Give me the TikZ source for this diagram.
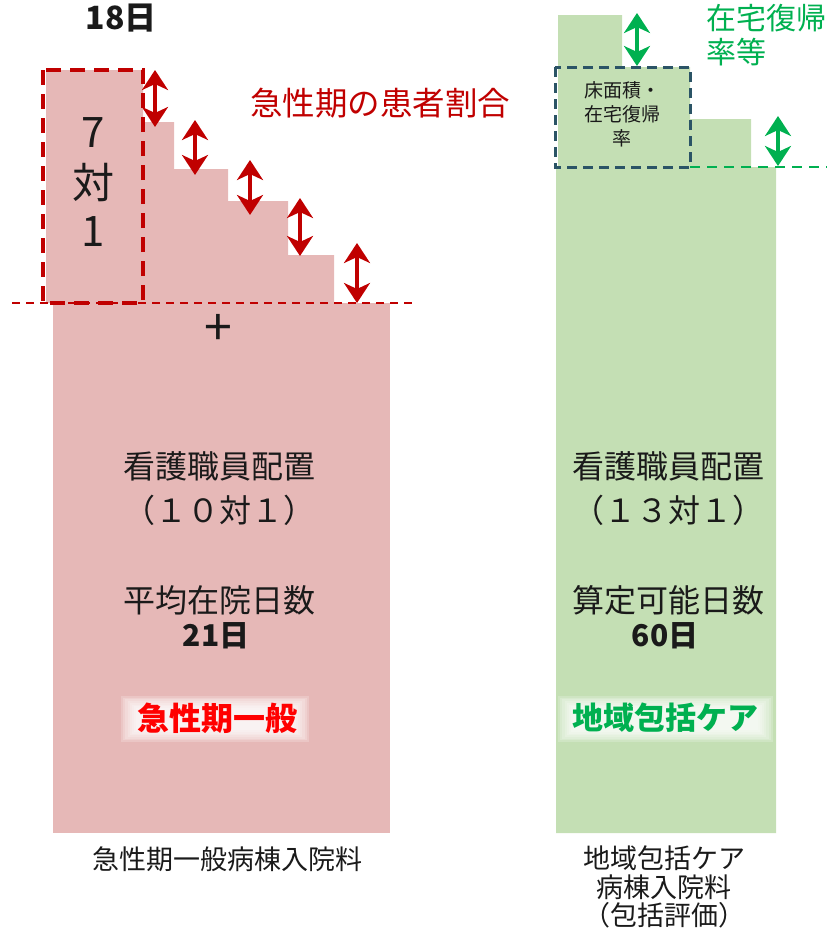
\documentclass[tikz,border=0pt]{standalone}
\usepackage{fontspec}
\setmainfont{Noto Sans CJK JP}
\usetikzlibrary{arrows.meta}
\definecolor{redfill}{HTML}{E6B8B7}
\definecolor{greenfill}{HTML}{C4DFB4}
\definecolor{darkred}{HTML}{C00000}
\definecolor{brightred}{HTML}{FF0000}
\definecolor{mygreen}{HTML}{00B050}
\definecolor{slate}{HTML}{2B5466}
\definecolor{txt}{HTML}{1A1A1A}
\newcommand\fsz[2]{\fontsize{#1}{#2}\selectfont}
\tikzset{
  lbl/.style={inner sep=0pt, text=txt, font=\fsz{32}{38}},
  bot/.style={inner sep=0pt, text=txt, font=\fsz{27}{28.5}, align=center},
  big/.style={inner sep=0pt, text=txt, font=\fsz{42}{46}},
  dblred/.style={draw=darkred, line width=3.4pt, {Stealth[length=20pt,width=26pt,inset=6pt]}-{Stealth[length=20pt,width=26pt,inset=6pt]}},
  dblgreen/.style={draw=mygreen, line width=3.4pt, {Stealth[length=20pt,width=26pt,inset=6pt]}-{Stealth[length=20pt,width=26pt,inset=6pt]}},
}
\begin{document}
\begin{tikzpicture}[x=1pt,y=-1pt]
\useasboundingbox (0,0) rectangle (827,929);
% red shape
\fill[redfill] (46,70) -- (143,70) -- (143,122) -- (174,122) -- (174,169) -- (228,169) -- (228,201) -- (288,201) -- (288,255) -- (334,255) -- (334,303) -- (46,303) -- cycle;
\fill[redfill] (53,303) rectangle (390,833);
\draw[darkred, line width=4.5pt, dash pattern=on 15pt off 9pt] (43,70) rectangle (143,303);
\coordinate (rl0) at (12,303); \coordinate (rl1) at (415,303);
\draw[darkred, line width=1.4pt, dash pattern=on 8pt off 6pt] (rl0) -- (rl1);
% red arrows
\coordinate (a1t) at (155,70);  \coordinate (a1b) at (155,127);
\coordinate (a2t) at (195,120); \coordinate (a2b) at (195,175);
\coordinate (a3t) at (250,160); \coordinate (a3b) at (250,215);
\coordinate (a4t) at (300,198); \coordinate (a4b) at (300,256);
\coordinate (a5t) at (357,243); \coordinate (a5b) at (357,303);
\draw[dblred] (a1t) -- (a1b);
\draw[dblred] (a2t) -- (a2b);
\draw[dblred] (a3t) -- (a3b);
\draw[dblred] (a4t) -- (a4b);
\draw[dblred] (a5t) -- (a5b);
% green shape
\fill[greenfill] (558,15) -- (622,15) -- (622,67) -- (690,67) -- (690,119) -- (751,119) -- (751,167) -- (776,167) -- (776,833) -- (556,833) -- (556,167) -- (558,167) -- cycle;
\draw[slate, line width=3pt, dash pattern=on 10pt off 6pt] (555,67) rectangle (690,167);
\coordinate (gl0) at (690,167); \coordinate (gl1) at (827,167);
\draw[mygreen, line width=2pt, dash pattern=on 10pt off 7pt] (gl0) -- (gl1);
\coordinate (g1t) at (637,13);  \coordinate (g1b) at (637,66);
\coordinate (g2t) at (778,116); \coordinate (g2b) at (778,166);
\draw[dblgreen] (g1t) -- (g1b);
\draw[dblgreen] (g2t) -- (g2b);
% glows
\foreach \i in {0,...,7} {
  \fill[white, opacity=0.2] (121+2.2*\i,696+1.7*\i) rectangle (309-2.2*\i,742-1.7*\i);
  \fill[white, opacity=0.2] (558+2.2*\i,696+1.7*\i) rectangle (773-2.2*\i,742-1.7*\i);
}
% texts left
\node[inner sep=0pt, text=txt, font=\bfseries\fsz{32}{36}] (t18) at (121,18) {18日};
\node[big] (t7) at (93,133) {7};
\node[big] (tdui) at (93,183) {対};
\node[big] (t1) at (93,232) {1};
\node[inner sep=0pt, text=darkred, font=\fsz{32.5}{36}] (tratio) at (380,103) {急性期の患者割合};
\node[inner sep=0pt, text=txt, font=\fsz{50}{50}] (tplus) at (218,330) {+};
\node[lbl] (l1) at (219,466) {看護職員配置};
\node[lbl] (l2) at (219,510) {（１０対１）};
\node[lbl] (l3) at (219,600) {平均在院日数};
\node[lbl, font=\bfseries\fsz{30}{36}] (l4) at (216,636) {21日};
\node[inner sep=0pt, text=brightred, font=\bfseries\fsz{32}{36}] (l5) at (217,718) {急性期一般};
\node[bot] (l6) at (227,859) {急性期一般病棟入院料};
% texts right
\node[inner sep=0pt, text=txt, font=\fsz{19}{24}, align=center] (tbox) at (622,114) {床面積・\\在宅復帰\\率};
\node[inner sep=0pt, text=mygreen, font=\fsz{30}{34}, align=left, anchor=north west] (tzt) at (706,4) {在宅復帰\\率等};
\node[lbl] (r1) at (668,466) {看護職員配置};
\node[lbl] (r2) at (668,510) {（１３対１）};
\node[lbl] (r3) at (668,600) {算定可能日数};
\node[lbl, font=\bfseries\fsz{30}{36}] (r4) at (665,636) {60日};
\node[inner sep=0pt, text=mygreen, font=\bfseries\fsz{31}{36}] (r5) at (665,718) {地域包括ケア};
\node[bot] (r6) at (664,887) {地域包括ケア\\病棟入院料\\（包括評価）};
\end{tikzpicture}
\end{document}
